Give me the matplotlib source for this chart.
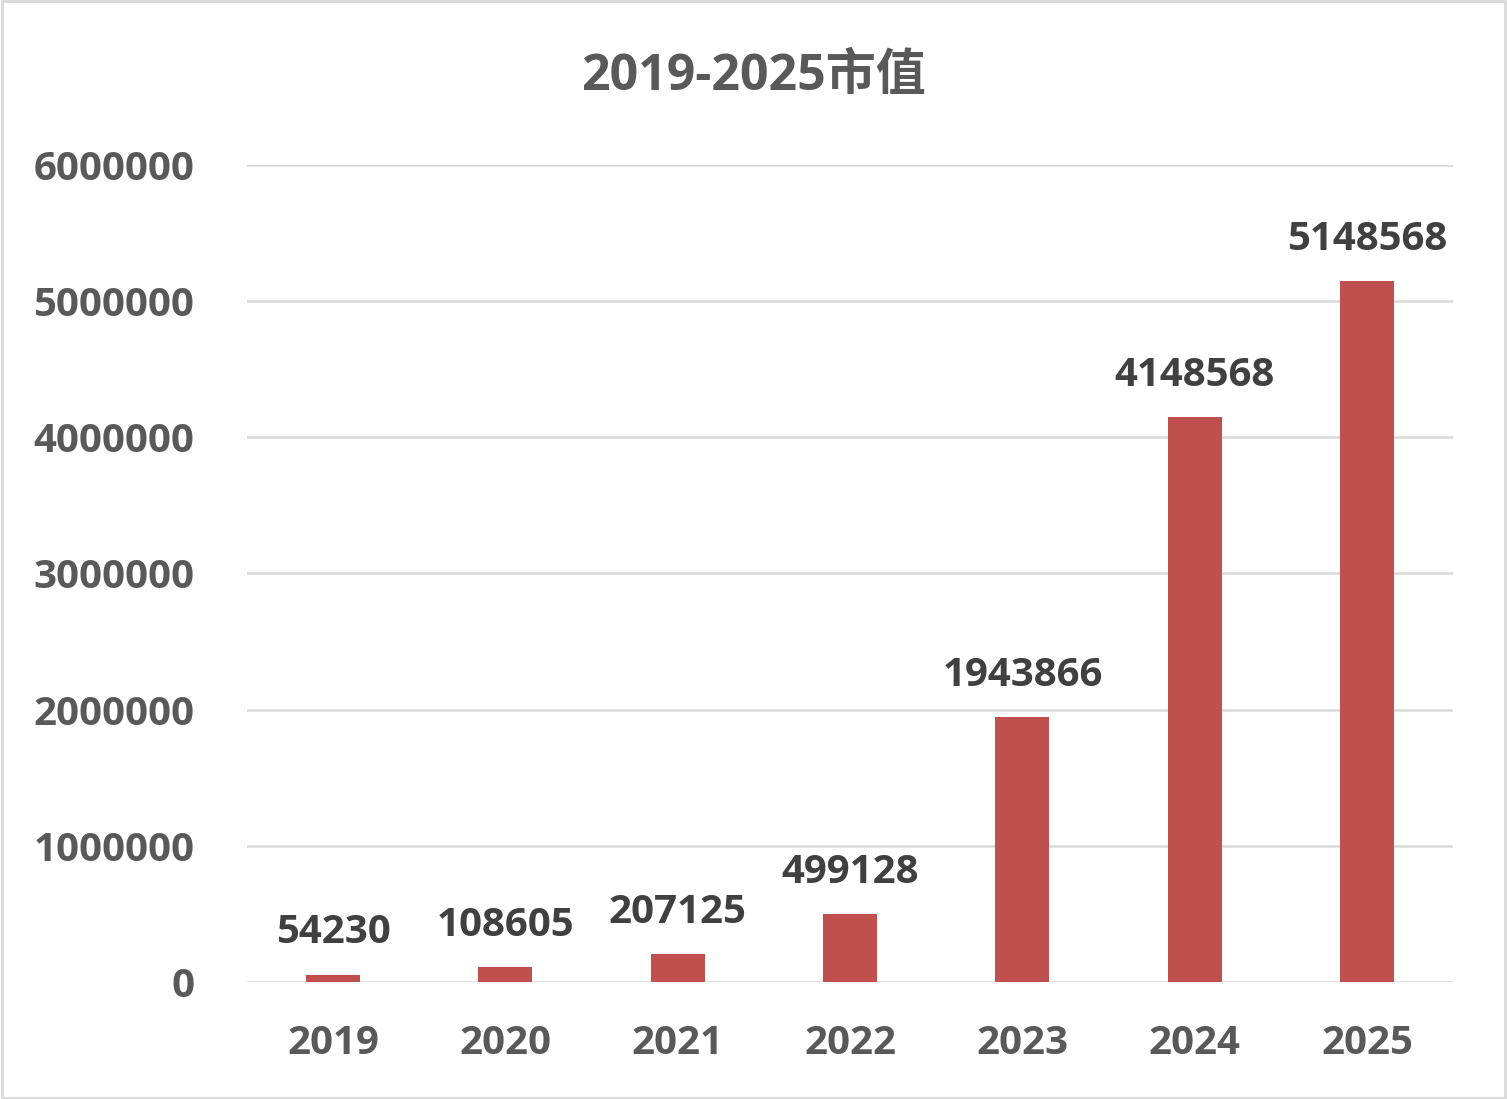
import matplotlib.pyplot as plt
import numpy as np

plt.rcParams['font.family'] = ['Open Sans', 'Noto Sans CJK SC', 'DejaVu Sans']

# data
years = ["2019", "2020", "2021", "2022", "2023", "2024", "2025"]
values = [54230, 108605, 207125, 499128, 1943866, 4148568, 5148568]
yticks = [0, 1000000, 2000000, 3000000, 4000000, 5000000, 6000000]

fig = plt.figure(figsize=(15.07, 10.99), dpi=100)
ax = fig.add_axes([0.1639, 0.1065, 0.8003, 0.7434])

x = np.arange(len(years))
bars = ax.bar(x, values, 0.313, color="#C0504D", zorder=3)

for xi, v in zip(x, values):
    ax.annotate(str(v), (xi, v), xytext=(0, 16), textcoords="offset points",
                ha="center", va="bottom", fontsize=29, fontweight="bold",
                color="#404040")

ax.set_xlim(-0.5, len(years) - 0.5)
ax.set_ylim(0, 6000000)
ax.set_xticks(x, years)
ax.set_yticks(yticks, [str(t) for t in yticks])
ax.tick_params(length=0, labelsize=29, labelcolor="#595959")
for lbl in ax.get_xticklabels() + ax.get_yticklabels():
    lbl.set_fontweight("bold")
ax.tick_params(axis="x", pad=30)
ax.tick_params(axis="y", pad=38)

ax.grid(axis="y", color="#D9D9D9", linewidth=1.8, zorder=0)
for s in ax.spines.values():
    s.set_visible(False)

fig.text(0.5, 0.93, "2019-2025市值", ha="center", va="center",
         fontsize=36, fontweight="bold", color="#595959")

# outer frame
fig.patches.append(plt.Rectangle((0.001, 0.001), 0.998, 0.998, transform=fig.transFigure,
                                 fill=False, edgecolor="#D9D9D9", linewidth=2))

fig.savefig("out.png", dpi=100)
